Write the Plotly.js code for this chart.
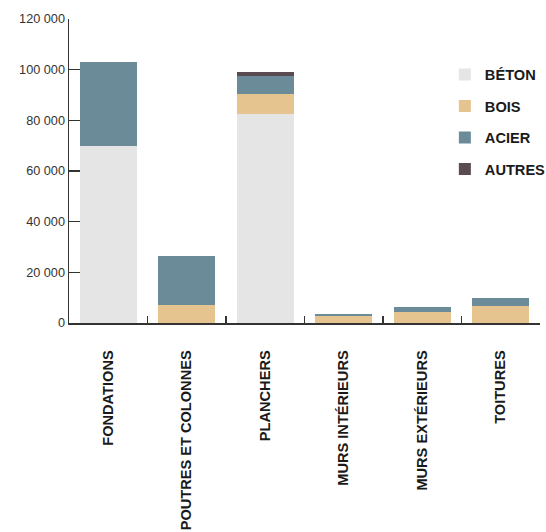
<!DOCTYPE html>
<html>
<head>
<meta charset="utf-8">
<script src="https://cdn.plot.ly/plotly-3.0.1.min.js"></script>
<style>html,body{margin:0;padding:0;background:#fff;}#chart{width:546px;height:532px;}</style>
</head>
<body>
<div id="chart"></div>
<script>
const categories = ["FONDATIONS", "POUTRES ET COLONNES", "PLANCHERS", "MURS INTÉRIEURS", "MURS EXTÉRIEURS", "TOITURES"];
const beton  = [70000, 0,     82600, 0,    0,    0];
const bois   = [0,     7100,  7700,  2900, 4500, 6800];
const acier  = [33200, 19200, 7200,  600,  1800, 3100];
const autres = [0,     0,     1700,  0,    0,    0];
const seriesNames = ["BÉTON", "BOIS", "ACIER", "AUTRES"];
const yTicks = [0, 20000, 40000, 60000, 80000, 100000, 120000];

const colors = ["#e5e5e5", "#e5c48f", "#6b8b99", "#5a4a52"];
const values = [beton, bois, acier, autres];
const traces = values.map((v, i) => ({
  type: "bar",
  x: categories,
  y: v,
  name: seriesNames[i],
  legendgroup: "g" + i,
  marker: {color: colors[i]},
  hoverinfo: "skip"
}));

const boldFont = {family: "'Liberation Sans', Arial, sans-serif", size: 14.6, color: "#1a1a1a", weight: "bold"};

const layout = {
  width: 546, height: 532,
  margin: {l: 69, r: 6, t: 19, b: 209, autoexpand: false},
  barmode: "stack",
  bargap: 0.27,
  separators: ", ",
  paper_bgcolor: "#fff",
  plot_bgcolor: "#fff",
  font: {family: "'Liberation Sans', Arial, sans-serif", color: "#222"},
  showlegend: true,
  legend: {
    x: 0.798, xanchor: "left", y: 0.87, yanchor: "top",
    traceorder: "grouped",
    tracegroupgap: 9.5,
    font: boldFont,
    bgcolor: "rgba(0,0,0,0)"
  },
  xaxis: {
    type: "category",
    showline: true, linecolor: "#333", linewidth: 1.5,
    ticks: "inside", tickson: "boundaries", ticklen: 7, tickwidth: 1.2, tickcolor: "#333",
    tickangle: -90,
    ticklabelstandoff: 20,
    tickfont: boldFont,
    showgrid: false, zeroline: false, fixedrange: true
  },
  yaxis: {
    range: [0, 120000],
    tickvals: yTicks,
    tickformat: ",d",
    showline: true, linecolor: "#333", linewidth: 1.5,
    ticks: "inside", ticklen: 11, tickwidth: 1.2, tickcolor: "#333",
    tickfont: {family: "'Liberation Sans', Arial, sans-serif", size: 12.7, color: "#333"},
    showgrid: false, zeroline: false, fixedrange: true
  }
};

Plotly.newPlot("chart", traces, layout, {displayModeBar: false, staticPlot: true});
</script>
</body>
</html>
